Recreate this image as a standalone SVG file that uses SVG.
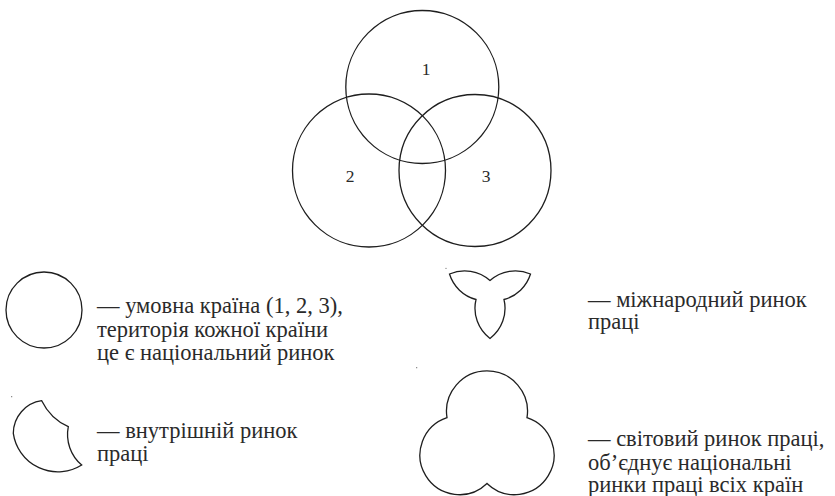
<svg xmlns="http://www.w3.org/2000/svg" width="835" height="496" viewBox="0 0 835 496">
<style>
.ln{fill:none;stroke:#1e1e1e;stroke-width:1.3}
.dot{fill:#666}
</style>
<rect width="835" height="496" fill="#fff"/>
<g id="venn">
  <g id="country-1"><circle class="ln" cx="422.3" cy="87" r="76.5"/><text x="426" y="75" font-family="serif" font-size="17.5" fill="#2a2a2a" text-anchor="middle">1</text></g>
  <g id="country-2"><circle class="ln" cx="369" cy="170.5" r="76.5"/><text x="350" y="182.3" font-family="serif" font-size="17.5" fill="#2a2a2a" text-anchor="middle">2</text></g>
  <g id="country-3"><circle class="ln" cx="475" cy="170.5" r="76"/><text x="486" y="182.3" font-family="serif" font-size="17.5" fill="#2a2a2a" text-anchor="middle">3</text></g>
</g>
<g id="connectors"></g>
<g id="legend-country">
  <circle class="ln" cx="44" cy="310" r="38"/>
  <text x="97" y="313" font-family="serif" font-size="22.5" fill="#2a2a2a">— умовна країна (1, 2, 3),</text>
  <text x="97" y="336.5" font-family="serif" font-size="22.5" fill="#2a2a2a">територія кожної країни</text>
  <text x="97" y="360" font-family="serif" font-size="22.5" fill="#2a2a2a">це є національний ринок</text>
</g>
<g id="legend-internal">
  <path class="ln" d="M41.7,400.7 A33,33 0 0 0 13.3,433.3 A45,45 0 0 0 81.7,465 A40,40 0 0 1 68.3,426.7 A55,55 0 0 1 41.7,400.7 Z"/>
  <text x="97" y="437.5" font-family="serif" font-size="22.5" fill="#2a2a2a">— внутрішній ринок</text>
  <text x="97" y="461" font-family="serif" font-size="22.5" fill="#2a2a2a">праці</text>
</g>
<g id="legend-international">
  <path class="ln" d="M449.5,274 A38,38 0 0 1 490,280.5 A38,38 0 0 1 530.5,274 A38,38 0 0 1 504,299.5 A38,38 0 0 1 490,338.5 A38,38 0 0 1 476,299.5 A38,38 0 0 1 449.5,274 Z"/>
  <text x="588" y="306.5" font-family="serif" font-size="22.5" fill="#2a2a2a">— міжнародний ринок</text>
  <text x="588" y="329" font-family="serif" font-size="22.5" fill="#2a2a2a">праці</text>
</g>
<g id="legend-world">
  <path class="ln" d="M447,417.7 A40.5,40.5 0 1 1 527,417.7 A39.5,39.5 0 1 1 487,483.5 A39.5,39.5 0 1 1 447,417.7 Z"/>
  <text x="588" y="446" font-family="serif" font-size="22.5" fill="#2a2a2a">— світовий ринок праці,</text>
  <text x="588" y="469.5" font-family="serif" font-size="22.5" fill="#2a2a2a">об’єднує національні</text>
  <text x="588" y="492" font-family="serif" font-size="22.5" fill="#2a2a2a">ринки праці всіх країн</text>
</g>
<g id="specks">
  <circle class="dot" cx="11.7" cy="396.7" r="0.6"/>
  <circle class="dot" cx="446" cy="268.3" r="0.6"/>
  <circle class="dot" cx="416.7" cy="367.7" r="0.6"/>
</g>
</svg>
